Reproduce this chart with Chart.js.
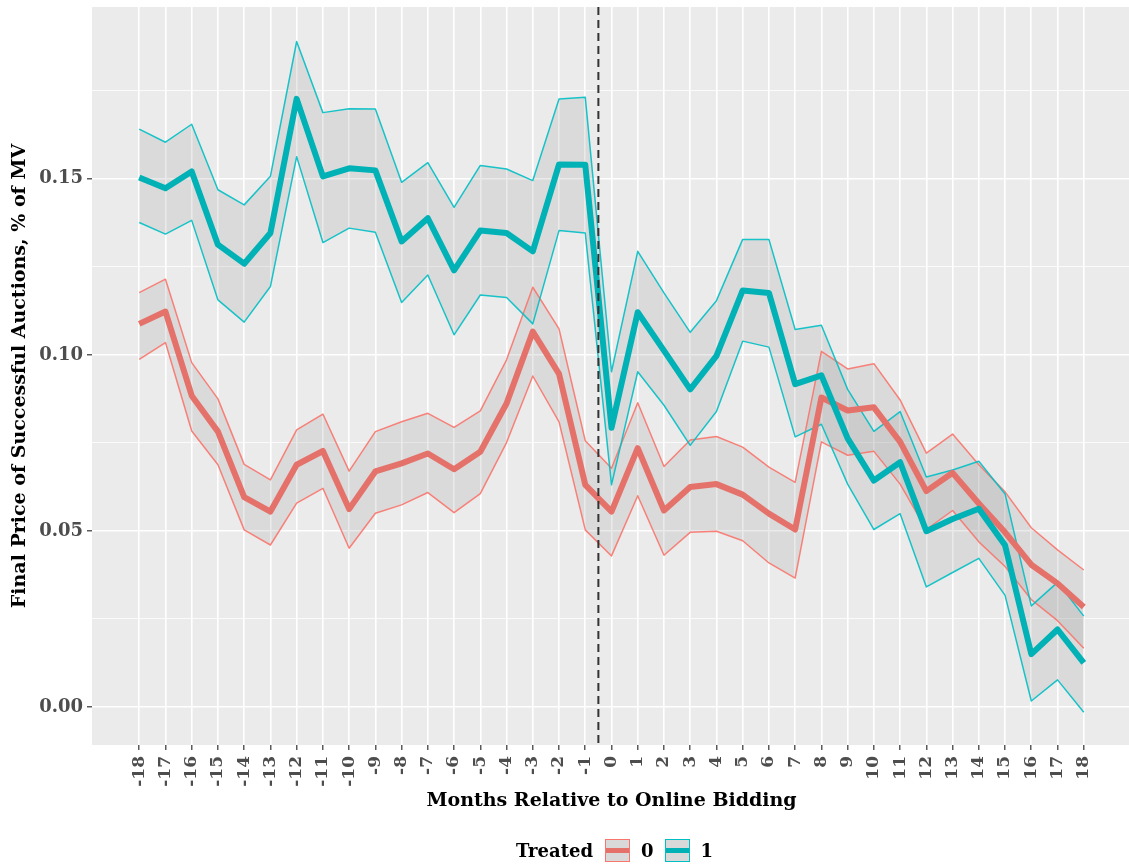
<!DOCTYPE html>
<html>
<head>
<meta charset="utf-8">
<script src="https://cdn.jsdelivr.net/npm/chart.js@4.4.1/dist/chart.umd.min.js"></script>
<style>
  html, body { margin: 0; padding: 0; background: #fff; overflow: hidden; }
  #wrap { position: relative; width: 1129px; height: 868px; overflow: hidden; }
  #chart { position: absolute; left: 0; top: 0; }
  .legend { position: absolute; left: 516px; top: 838px; height: 25px; display: flex; align-items: center;
            font-family: 'DejaVu Serif', serif; font-weight: bold; font-size: 18px; color: #000; }
  .legend .key { width: 23px; height: 21px; background: #d9d9d9; border: 1.5px solid; position: relative; margin: 0 11px 0 12px; }
  .legend .key span { position: absolute; left: 0; right: 0; top: 8px; height: 5px; }
</style>
</head>
<body>
<div id="wrap">
  <canvas id="chart" width="1131" height="868"></canvas>
  <div class="legend">
    <span>Treated</span>
    <div class="key" style="border-color:#f8766d"><span style="background:#e5726a"></span></div>
    <span>0</span>
    <div class="key" style="border-color:#00bfc4; margin-left: 11px"><span style="background:#00b1b6"></span></div>
    <span>1</span>
  </div>
</div>
<script>
// Bulan relatif terhadap online bidding
const months = [-18, -17, -16, -15, -14, -13, -12, -11, -10, -9, -8, -7, -6, -5, -4, -3, -2, -1,
                0, 1, 2, 3, 4, 5, 6, 7, 8, 9, 10, 11, 12, 13, 14, 15, 16, 17, 18];

// Treated = 0
const ctrlMean = [0.1088, 0.1123, 0.0884, 0.0782, 0.0596, 0.0555, 0.0688, 0.0727, 0.0562, 0.0669, 0.0692, 0.0720,
                  0.0675, 0.0725, 0.0862, 0.1066, 0.0946, 0.0631, 0.0555, 0.0735, 0.0558, 0.0625, 0.0633, 0.0603,
                  0.0549, 0.0504, 0.0879, 0.0842, 0.0851, 0.0753, 0.0613, 0.0665, 0.0578, 0.0496, 0.0404, 0.0351, 0.0284];
const ctrlUpper = [0.1177, 0.1215, 0.0978, 0.0875, 0.0689, 0.0645, 0.0787, 0.0832, 0.0670, 0.0782, 0.0810, 0.0834,
                   0.0794, 0.0841, 0.0986, 0.1192, 0.1074, 0.0756, 0.0678, 0.0864, 0.0683, 0.0758, 0.0768, 0.0738,
                   0.0681, 0.0638, 0.1010, 0.0960, 0.0975, 0.0872, 0.0721, 0.0775, 0.0688, 0.0611, 0.0509, 0.0446, 0.0389];
const ctrlLower = [0.0987, 0.1035, 0.0784, 0.0688, 0.0503, 0.0460, 0.0579, 0.0621, 0.0451, 0.0550, 0.0574, 0.0609,
                   0.0552, 0.0606, 0.0751, 0.0940, 0.0810, 0.0503, 0.0429, 0.0600, 0.0431, 0.0496, 0.0499, 0.0472,
                   0.0409, 0.0366, 0.0753, 0.0715, 0.0726, 0.0633, 0.0504, 0.0558, 0.0469, 0.0399, 0.0305, 0.0245, 0.0167];

// Treated = 1
const treatMean = [0.1504, 0.1473, 0.1521, 0.1313, 0.1259, 0.1346, 0.1727, 0.1507, 0.1530, 0.1524, 0.1322, 0.1388,
                   0.1240, 0.1353, 0.1346, 0.1294, 0.1541, 0.1540, 0.0793, 0.1121, 0.1012, 0.0902, 0.0997, 0.1183,
                   0.1176, 0.0917, 0.0942, 0.0763, 0.0643, 0.0695, 0.0499, 0.0534, 0.0563, 0.0459, 0.0150, 0.0220, 0.0125];
const treatUpper = [0.1641, 0.1604, 0.1655, 0.1469, 0.1426, 0.1507, 0.1890, 0.1688, 0.1699, 0.1698, 0.1490, 0.1546,
                    0.1419, 0.1538, 0.1528, 0.1495, 0.1727, 0.1732, 0.0952, 0.1294, 0.1176, 0.1064, 0.1154, 0.1328,
                    0.1328, 0.1072, 0.1084, 0.0902, 0.0783, 0.0839, 0.0653, 0.0673, 0.0698, 0.0605, 0.0287, 0.0354, 0.0258];
const treatLower = [0.1376, 0.1343, 0.1382, 0.1156, 0.1093, 0.1194, 0.1563, 0.1319, 0.1360, 0.1348, 0.1149, 0.1227,
                    0.1057, 0.1170, 0.1163, 0.1088, 0.1353, 0.1346, 0.0631, 0.0952, 0.0857, 0.0743, 0.0839, 0.1039,
                    0.1022, 0.0767, 0.0803, 0.0633, 0.0504, 0.0549, 0.0341, 0.0382, 0.0422, 0.0317, 0.0017, 0.0077, -0.0015];

const yTicks = [0, 0.025, 0.05, 0.075, 0.1, 0.125, 0.15, 0.175];
const eventMonth = -0.5;

const serif = "'DejaVu Serif', serif";

// Gabungkan bulan dan nilai jadi titik {x, y}
function toPoints(values) {
    return months.map(function(m, i) { return { x: m, y: values[i] }; });
}

function isMajor(v) {
    return Math.abs(v / 0.05 - Math.round(v / 0.05)) < 1e-6;
}

// Latar panel abu-abu ala ggplot
const panelBg = {
    id: 'panelBg',
    beforeDraw: function(chart) {
        const a = chart.chartArea;
        const c = chart.ctx;
        c.save();
        c.fillStyle = '#ebebeb';
        c.fillRect(a.left, a.top, a.right - a.left, a.bottom - a.top);
        c.restore();
    }
};

// Garis putus-putus vertikal
const eventLine = {
    id: 'eventLine',
    afterDatasetsDraw: function(chart) {
        const a = chart.chartArea;
        const c = chart.ctx;
        const x = chart.scales.x.getPixelForValue(eventMonth);
        c.save();
        c.strokeStyle = '#333333';
        c.lineWidth = 2;
        c.setLineDash([8, 5]);
        c.beginPath();
        c.moveTo(x, a.top);
        c.lineTo(x, a.bottom);
        c.stroke();
        c.restore();
    }
};

function edgeLine(values, color, order, fill) {
    return {
        data: toPoints(values),
        borderColor: color,
        borderWidth: 1.5,
        pointRadius: 0,
        tension: 0,
        borderJoinStyle: 'round',
        backgroundColor: 'rgba(150,150,150,0.2)',
        fill: fill,
        order: order
    };
}

function meanLine(values, color, order) {
    return {
        data: toPoints(values),
        borderColor: color,
        borderWidth: 6,
        pointRadius: 0,
        tension: 0,
        borderJoinStyle: 'round',
        fill: false,
        order: order
    };
}

// Hilangkan padding otomatis agar area panel pas
function noPadding(scale) {
    scale.paddingTop = 0;
    scale.paddingBottom = 0;
    scale.paddingLeft = 0;
    scale.paddingRight = 0;
}

const ctx = document.getElementById('chart').getContext('2d');

new Chart(ctx, {
    type: 'line',
    data: {
        datasets: [
            edgeLine(ctrlLower, 'rgba(248,118,109,0.9)', 5, false),
            edgeLine(ctrlUpper, 'rgba(248,118,109,0.9)', 4, 0),
            edgeLine(treatLower, 'rgba(0,191,196,0.9)', 3, false),
            edgeLine(treatUpper, 'rgba(0,191,196,0.9)', 2, 2),
            meanLine(ctrlMean, '#e5726a', 1),
            meanLine(treatMean, '#00b1b6', 0)
        ]
    },
    options: {
        responsive: false,
        animation: false,
        layout: { padding: { top: 7, left: 0, right: 0, bottom: 56 } },
        plugins: {
            legend: { display: false },
            tooltip: { enabled: false },
            filler: { drawTime: 'beforeDatasetsDraw' }
        },
        scales: {
            x: {
                type: 'linear',
                min: -19.8,
                max: 19.8,
                afterBuildTicks: function(scale) {
                    scale.ticks = months.map(function(m) { return { value: m }; });
                },
                afterFit: function(scale) { scale.height = 67; noPadding(scale); },
                ticks: {
                    autoSkip: false,
                    maxRotation: 90,
                    minRotation: 90,
                    padding: 6,
                    color: '#4d4d4d',
                    font: { family: serif, weight: 'bold', size: 17 },
                    callback: function(v) { return String(v); }
                },
                grid: { color: '#ffffff', lineWidth: 1.6, tickColor: '#333333', tickLength: 5, tickWidth: 1.2 },
                border: { display: false },
                title: {
                    display: true,
                    text: 'Months Relative to Online Bidding',
                    color: '#000',
                    font: { family: serif, weight: 'bold', size: 19 },
                    padding: { top: 0, bottom: 0 }
                }
            },
            y: {
                min: -0.0108,
                max: 0.1988,
                afterBuildTicks: function(scale) {
                    scale.ticks = yTicks.map(function(v) { return { value: v }; });
                },
                afterFit: function(scale) { scale.width = 92; noPadding(scale); },
                ticks: {
                    padding: 4,
                    color: '#4d4d4d',
                    font: { family: serif, weight: 'bold', size: 18 },
                    callback: function(v) { return isMajor(v) ? v.toFixed(2) : ''; }
                },
                grid: {
                    color: '#ffffff',
                    lineWidth: function(c) { return isMajor(c.tick.value) ? 1.6 : 0.8; },
                    tickColor: function(c) { return isMajor(c.tick.value) ? '#333333' : 'rgba(0,0,0,0)'; },
                    tickLength: 5,
                    tickWidth: 1.2
                },
                border: { display: false },
                title: {
                    display: true,
                    text: 'Final Price of Successful Auctions, % of MV',
                    color: '#000',
                    font: { family: serif, weight: 'bold', size: 19 },
                    padding: { top: 9, bottom: 0 }
                }
            }
        }
    },
    plugins: [panelBg, eventLine]
});
</script>
</body>
</html>
